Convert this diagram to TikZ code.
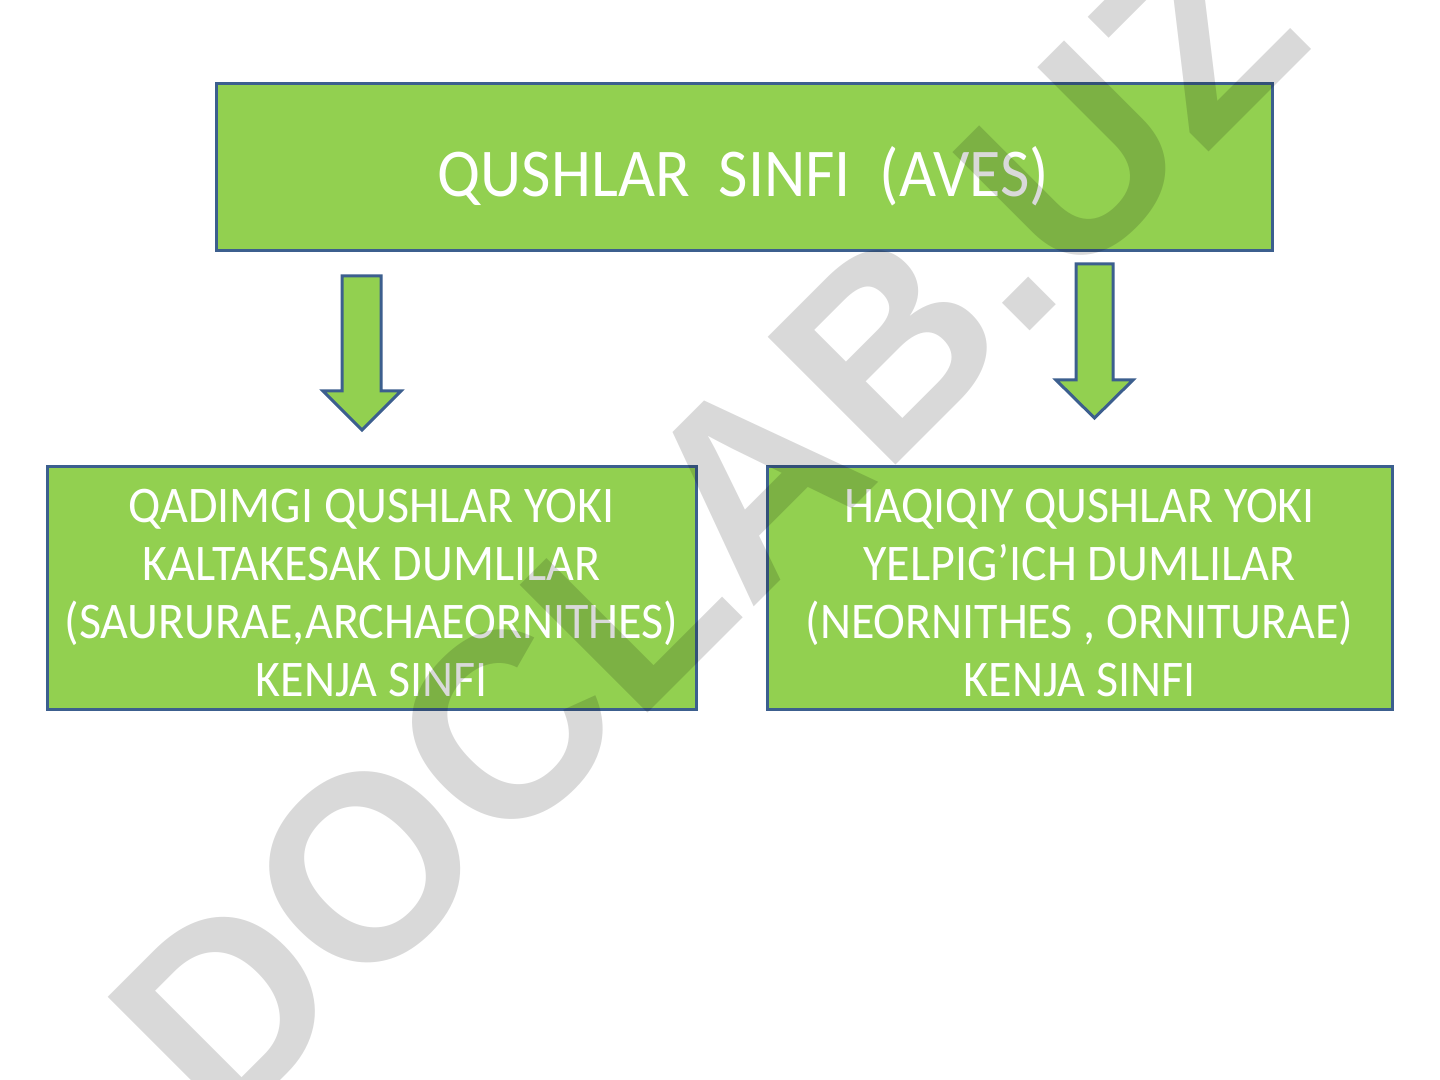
\documentclass[tikz,border=0pt]{standalone}
\usepackage{fontspec}
\setmainfont{Carlito}[FakeStretch=0.935]
\newfontfamily\wmfont{Liberation Sans}
\definecolor{boxgreen}{HTML}{92D050}
\definecolor{boxblue}{HTML}{3C5F8E}
\tikzset{
  greenbox/.style={draw=boxblue, fill=boxgreen, line width=2.25pt, inner sep=0pt, outer sep=0pt},
  downarrow/.style={draw=boxblue, fill=boxgreen, line width=2.25pt, line join=miter},
  boxtext/.style={text=white, align=center, inner sep=0pt},
  toptext/.style={boxtext, font=\fontsize{51.3}{60}\selectfont},
  subtext/.style={boxtext, font=\fontsize{38.5}{43.5}\selectfont},
  watermark/.style={text=black, text opacity=0.15, inner sep=0pt,
    font=\wmfont\bfseries\fontsize{197}{197}\selectfont}
}
\begin{document}
\begin{tikzpicture}[x=0.75pt,y=-0.75pt]
\useasboundingbox[fill=white] (0,0) rectangle (1440,1080);

% boxes
\node[greenbox, minimum width=792pt, minimum height=125.25pt] (top) at (744,167.5) {};
\node[greenbox, minimum width=486.75pt, minimum height=181.5pt] (left) at (371.5,588) {};
\node[greenbox, minimum width=468.75pt, minimum height=181.5pt] (right) at (1079.5,588) {};

% texts
\node[toptext, anchor=base] (toplabel) at (743.5,197) {QUSHLAR\ \ SINFI\ \ (AVES)};
\node[subtext] (leftlabel) at (371.5,593.5) {QADIMGI QUSHLAR YOKI\\KALTAKESAK DUMLILAR\\(SAURURAE,ARCHAEORNITHES)\\KENJA SINFI};
\node[subtext] (rightlabel) at (1079.5,593.5) {HAQIQIY QUSHLAR YOKI\\YELPIG’ICH DUMLILAR\\(NEORNITHES , ORNITURAE)\\KENJA SINFI};

% block arrows
\draw[downarrow] (342,276) -- (381,276) -- (381,391) -- (401,391) -- (362,430) -- (323,391) -- (342,391) -- cycle;
\draw[downarrow] (1076,264) -- (1113,264) -- (1113,380) -- (1133,380) -- (1094.5,418) -- (1056,380) -- (1076,380) -- cycle;

% watermark
\node[watermark, rotate=45] (wm) at (706,527) {DOCLAB.UZ};
\end{tikzpicture}
\end{document}
